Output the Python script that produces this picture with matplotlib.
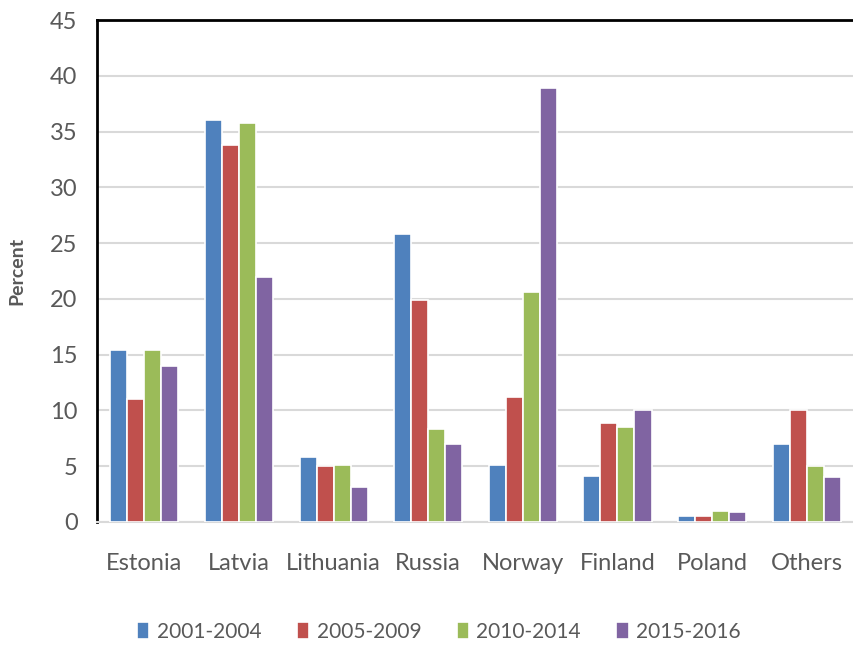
import matplotlib.pyplot as plt
import numpy as np

# dados
paises = ['Estonia', 'Latvia', 'Lithuania', 'Russia', 'Norway', 'Finland', 'Poland', 'Others']
periodos = ['2001-2004', '2005-2009', '2010-2014', '2015-2016']
p2001_2004 = [15.4, 36.0, 5.8, 25.8, 5.1, 4.1, 0.5, 7.0]
p2005_2009 = [11.0, 33.8, 5.0, 19.9, 11.2, 8.9, 0.5, 10.0]
p2010_2014 = [15.4, 35.8, 5.1, 8.3, 20.6, 8.5, 1.0, 5.0]
p2015_2016 = [14.0, 22.0, 3.1, 7.0, 38.9, 10.0, 0.9, 4.0]
cores = ['#4F81BD', '#C0504D', '#9BBB59', '#8064A2']

plt.rcParams['font.family'] = ['Lato', 'DejaVu Sans']

fig = plt.figure(figsize=(8.54, 6.46), dpi=100)
ax = fig.add_axes([0.1136, 0.192, 0.8864, 0.777])

x = np.arange(len(paises))
w = 0.18
series = [p2001_2004, p2005_2009, p2010_2014, p2015_2016]
for i, vals in enumerate(series):
    ax.bar(x + (i - 1.5) * w, vals, width=w, color=cores[i], edgecolor='white',
           linewidth=1.2, label=periodos[i], zorder=3)

ax.set_xlim(-0.5, 7.5)
ax.set_ylim(0, 45)
ax.set_yticks(range(0, 46, 5))
ax.set_xticks(x)
ax.set_xticklabels(paises)
ax.yaxis.grid(True, color='#D9D9D9', linewidth=1.5, zorder=0)
ax.tick_params(axis='both', length=0, labelsize=17, colors='#595959')
ax.tick_params(axis='x', pad=22)
ax.tick_params(axis='y', pad=14)

for s in ['left', 'top']:
    ax.spines[s].set_linewidth(2)
    ax.spines[s].set_color('black')
ax.spines['right'].set_visible(False)
ax.spines['bottom'].set_color('#D9D9D9')
ax.spines['bottom'].set_linewidth(1.5)

ax.set_ylabel('Percent', fontsize=14, fontweight='bold', color='#595959', labelpad=18)

fig.legend(loc='center', bbox_to_anchor=(0.514, 0.022), ncol=4, frameon=False,
           fontsize=15, labelcolor='#595959', handlelength=0.6, handleheight=0.9,
           handletextpad=0.35, columnspacing=1.7)

fig.savefig('out.png', dpi=100)
